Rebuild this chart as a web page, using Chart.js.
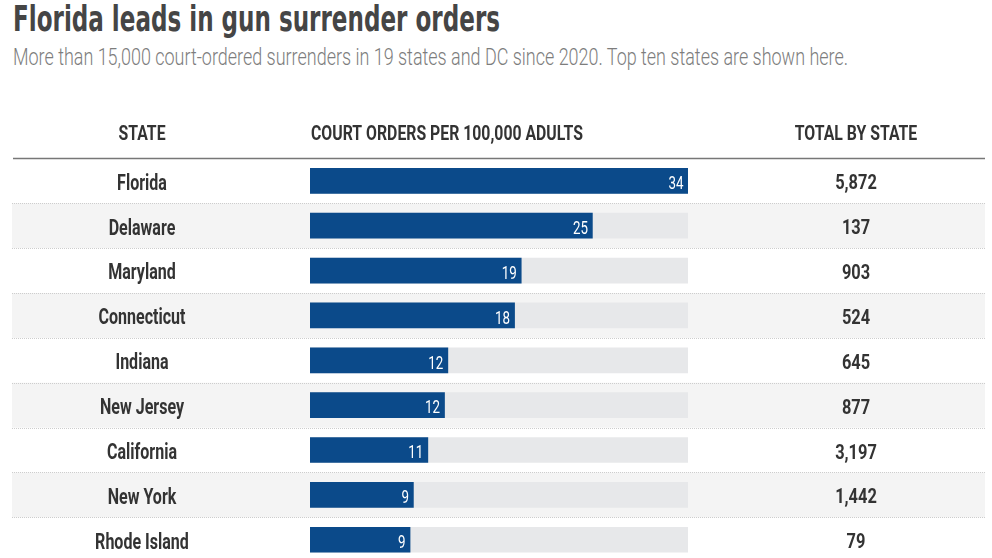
<!DOCTYPE html>
<html lang="en">
<head>
  <meta charset="UTF-8">
  <title>Florida leads in gun surrender orders</title>
  <script src="https://cdn.jsdelivr.net/npm/chart.js"></script>
  <style>
    body { margin: 0; background: #fff; width: 992px; height: 558px; overflow: hidden; position: relative;
           font-family: "DejaVu Sans Condensed", "Liberation Sans", sans-serif; }
    h1 { position: absolute; left: 13px; top: 1px; margin: 0; font-size: 36px; line-height: 36px;
         font-weight: bold; color: #454545; white-space: nowrap; transform-origin: 0 0; }
    .sub { position: absolute; left: 13px; top: 45px; margin: 0; font-family: Roboto, sans-serif; font-weight: 300;
           font-size: 24px; line-height: 24px; color: #7d7d7d; white-space: nowrap; transform-origin: 0 0; }
    #wrap { position: absolute; left: 0; top: 0; width: 992px; height: 566px; }
  </style>
</head>
<body>
  <h1 id="title">Florida leads in gun surrender orders</h1>
  <p class="sub" id="sub">More than 15,000 court-ordered surrenders in 19 states and DC since 2020. Top ten states are shown here.</p>
  <div id="wrap"><canvas id="myChart" width="992" height="566"></canvas></div>

  <script>
    const states = ['Florida', 'Delaware', 'Maryland', 'Connecticut', 'Indiana', 'New Jersey', 'California', 'New York', 'Rhode Island'];
    const ratePer100k = [34, 25.4, 19, 18.4, 12.4, 12.1, 10.6, 9.3, 9.0];
    const totals = ['5,872', '137', '903', '524', '645', '877', '3,197', '1,442', '79'];
    const headers = ['STATE', 'COURT ORDERS PER 100,000 ADULTS', 'TOTAL BY STATE'];
    const scaleMax = 34;

    // squeeze title / subtitle to the reference widths
    function fitWidth(id, w) {
      const el = document.getElementById(id);
      el.style.transform = 'scaleX(' + (w / el.getBoundingClientRect().width) + ')';
    }
    fitWidth('title', 487);
    fitWidth('sub', 835);

    // condensed text styles: font + sample string + width it has in the reference
    const styles = {
      head:  { font: 'bold 19.5px Roboto', sample: headers[1], w: 272 },
      state: { font: 'bold 22.5px Roboto', sample: 'Connecticut', w: 87 },
      total: { font: 'bold 20px Roboto', sample: '5,872', w: 41.7 },
      value: { font: '400 17.5px Roboto', sample: '34', w: 15 }
    };

    function condText(ctx, st, text, x, y, align) {
      ctx.font = st.font;
      if (!st.k) st.k = st.w / ctx.measureText(st.sample).width;
      ctx.save();
      ctx.translate(x, y);
      ctx.scale(st.k, 1);
      ctx.textAlign = align;
      ctx.fillText(text, 0, 0);
      ctx.restore();
    }

    const tablePlugin = {
      id: 'table',
      beforeDatasetsDraw(chart) {
        const ctx = chart.ctx;
        const y = chart.scales.y;
        const half = (y.getPixelForValue(1) - y.getPixelForValue(0)) / 2;
        ctx.save();
        states.forEach((s, i) => {
          if (i % 2 === 0) return;
          const c = y.getPixelForValue(i);
          ctx.fillStyle = '#f4f4f4';
          ctx.fillRect(12, c - half, 973, half * 2);
          ctx.strokeStyle = '#cdcdcd';
          ctx.lineWidth = 1;
          ctx.setLineDash([1, 1]);
          [c - half, c + half].forEach(yy => {
            ctx.beginPath();
            ctx.moveTo(12, Math.round(yy) + 0.5);
            ctx.lineTo(985, Math.round(yy) + 0.5);
            ctx.stroke();
          });
        });
        ctx.setLineDash([]);
        ctx.strokeStyle = '#777';
        ctx.lineWidth = 1.5;
        ctx.beginPath();
        ctx.moveTo(13, chart.chartArea.top);
        ctx.lineTo(985, chart.chartArea.top);
        ctx.stroke();
        ctx.restore();
      },
      afterDatasetsDraw(chart) {
        const ctx = chart.ctx;
        const x = chart.scales.x;
        const y = chart.scales.y;
        ctx.save();
        ctx.fillStyle = '#333';
        condText(ctx, styles.head, headers[0], 142, 140, 'center');
        condText(ctx, styles.head, headers[1], 311, 140, 'left');
        condText(ctx, styles.head, headers[2], 856, 140, 'center');

        states.forEach((s, i) => {
          const c = y.getPixelForValue(i);
          ctx.fillStyle = '#333';
          condText(ctx, styles.state, s, 142, c + 8.8, 'center');
          condText(ctx, styles.total, totals[i], 856, c + 8.5, 'center');
          ctx.fillStyle = '#fff';
          condText(ctx, styles.value, String(Math.round(ratePer100k[i])), x.getPixelForValue(ratePer100k[i]) - 4.5, c + 8.2, 'right');
        });
        ctx.restore();
      }
    };

    const ctx = document.getElementById('myChart').getContext('2d');
    new Chart(ctx, {
      type: 'bar',
      data: {
        labels: states,
        datasets: [{
          data: ratePer100k,
          backgroundColor: '#0b4a8a',
          barThickness: 25,
          grouped: false,
          order: 0
        }, {
          data: states.map(() => scaleMax),
          backgroundColor: '#e7e8ea',
          barThickness: 25,
          grouped: false,
          order: 1
        }]
      },
      options: {
        indexAxis: 'y',
        responsive: false,
        animation: false,
        layout: { padding: { left: 310, right: 304, top: 158.4, bottom: 3.8 } },
        scales: {
          x: { display: false, min: 0, max: scaleMax },
          y: { display: false }
        },
        plugins: {
          legend: { display: false },
          tooltip: { enabled: false }
        }
      },
      plugins: [tablePlugin]
    });
  </script>
</body>
</html>
